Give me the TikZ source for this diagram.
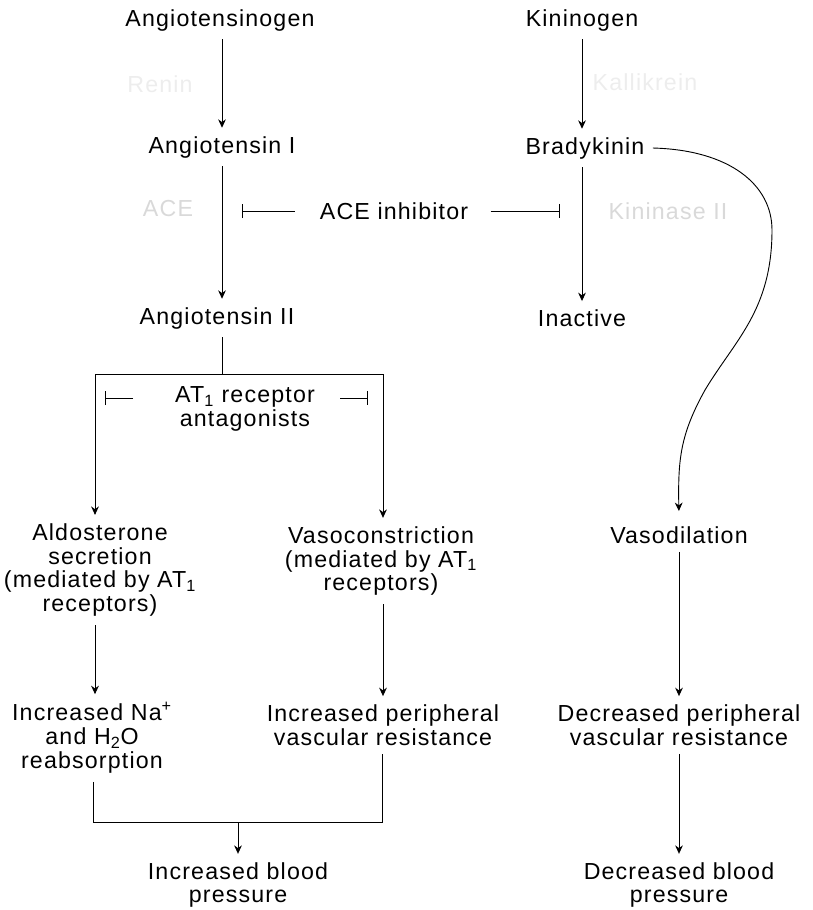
\documentclass[tikz,border=0pt]{standalone}
\usepackage{fontspec}
\setmainfont[LetterSpace=5]{Liberation Sans}
\usetikzlibrary{arrows.meta,calc,positioning}
\tikzset{pin/.style={-{Stealth[length=6pt,width=5.5pt]}},
  blk/.style={-{Bar[width=10pt]}},
  txt/.style={align=center, inner sep=1pt, outer sep=5pt},
  faint/.style={text=black!15},
  fainter/.style={text=black!7}}

\begin{document}
\begin{tikzpicture}[x=0.025cm, y=-0.025cm, line width=0.65pt,
  font=\fontsize{16.5}{17}\selectfont]
  \useasboundingbox (0,0) rectangle (813,910);
  % top of the two cascades
  \node[txt] (agen) at (220,20) {Angiotensinogen};
  \node[txt] (kgen) at (582,20) {Kininogen};
  \node[txt] (ang1) at (222,147) {Angiotensin I};
  \node[txt] (brady) at (585,148) {Bradykinin};
  \node[txt] (ang2) at (217,318) {Angiotensin II};
  \node[txt] (inact) at (582,318) {Inactive};
  \node[txt, fainter] (renin) at (160,84) {Renin};
  \node[txt, fainter] (kall) at (645,82) {Kallikrein};
  \node[txt, faint] (ace) at (168,209) {ACE};
  \node[txt, faint] (kin2) at (668,211) {Kininase II};
  \draw[pin] (agen.south -| ang1) -- (ang1);
  \draw[pin] (kgen) -- (kgen |- brady.north);
  \draw[pin] (ang1) -- (ang1 |- ang2.north);
  \draw[pin] (brady.south -| kgen) -- (inact);
  % the inhibitor acting on both arms
  \node[txt] (acei) at (394,211) {ACE inhibitor};
  \coordinate (aceL) at (242,211);
  \coordinate (aceR) at (560,211);
  \draw[blk, shorten <=12pt] (acei.west) -- (aceL);
  \draw[blk, shorten <=10pt] (acei.east) -- (aceR);
  % split of angiotensin II
  \node[txt] (aldo) at (100,570) {Aldosterone\\secretion\\(mediated by AT\textsubscript{1}\\receptors)};
  \node[txt] (vcon) at (381,561) {Vasoconstriction\\(mediated by AT\textsubscript{1}\\receptors)};
  \coordinate (split) at (222,374);
  \coordinate (lbr) at (95,374);
  \coordinate (rbr) at (383,374);
  \draw (ang1 |- ang2.south) -- (split);
  \draw (lbr) -- (rbr);
  \draw[pin] (lbr) -- (lbr |- aldo.north);
  \draw[pin] (rbr) -- (rbr |- vcon.north);
  \node[txt] (at1) at (245,409) {AT\textsubscript{1} receptor\\antagonists};
  \coordinate (atL) at (105,398);
  \coordinate (atLs) at (133,398);
  \coordinate (atR) at (368,398);
  \coordinate (atRs) at (340,398);
  \draw[blk] (atLs) -- (atL);
  \draw[blk] (atRs) -- (atR);
  % bradykinin to vasodilation
  \node[txt] (vdil) at (679,535) {Vasodilation};
  \draw[pin, shorten >=5pt] (brady.east) .. controls (730,150) and (772,185) .. (772,230)
    .. controls (772,310) and (735,340) .. (705,390)
    .. controls (680,435) and (678,460) .. (vdil.north);
  % effects
  \node[txt] (na) at (92,738) {Increased Na\textsuperscript{+}\\and H\textsubscript{2}O\\reabsorption};
  \node[txt] (pvr) at (383,725) {Increased peripheral\\vascular resistance};
  \node[txt] (dpvr) at (679,725) {Decreased peripheral\\vascular resistance};
  \draw[pin] (aldo.south -| lbr) -- (lbr |- na.north);
  \draw[pin] (vcon.south -| rbr) -- (rbr |- pvr.north);
  \draw[pin] (vdil) -- (dpvr);
  % blood pressure
  \node[txt] (ibp) at (238,885) {Increased blood\\pressure};
  \node[txt] (dbp) at (679,885) {Decreased blood\\pressure};
  \coordinate (bl) at (93,822);
  \coordinate (br) at (382,822);
  \coordinate (bm) at (238,822);
  \draw (na.south -| bl) -- (bl) -- (br) -- (pvr.south -| br);
  \draw[pin] (bm) -- (ibp);
  \draw[pin] (dpvr) -- (dbp);
\end{tikzpicture}
\end{document}
